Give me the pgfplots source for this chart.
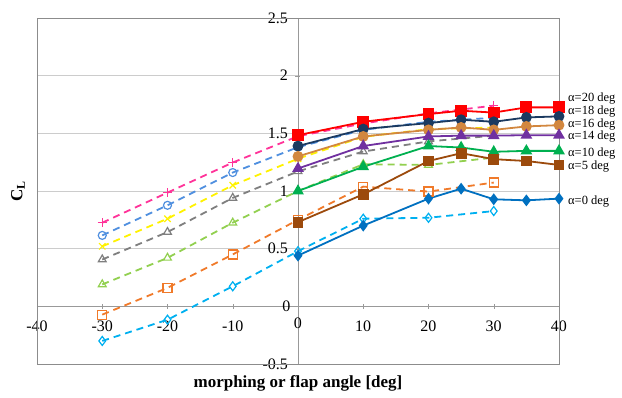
\documentclass[border=0pt]{standalone}
\usepackage{pgfplots}
\pgfplotsset{compat=1.18}
\usepackage{fontspec}
\setmainfont{Liberation Serif}
\definecolor{cPink}{HTML}{FF3399}
\definecolor{cBlueD}{HTML}{4F8FDF}
\definecolor{cYel}{HTML}{FFF200}
\definecolor{cGray}{HTML}{7F7F7F}
\definecolor{cLGreen}{HTML}{92D050}
\definecolor{cOrange}{HTML}{F07A2A}
\definecolor{cCyan}{HTML}{00B0F0}
\definecolor{cRed}{HTML}{FF0000}
\definecolor{cNavy}{HTML}{1B3A60}
\definecolor{cPeru}{HTML}{D2873F}
\definecolor{cPurple}{HTML}{7030A0}
\definecolor{cGreen}{HTML}{00B050}
\definecolor{cBrown}{HTML}{9C4A0C}
\definecolor{cBlue}{HTML}{0070C0}
\begin{document}
\begin{tikzpicture}
\useasboundingbox (-37pt,-33pt) rectangle (585pt,364pt);
\begin{axis}[
  at={(0pt,0pt)}, anchor=south west,
  scale only axis, width=522pt, height=346pt,
  xmin=-40, xmax=40, ymin=-0.5, ymax=2.5,
  axis lines=middle,
  axis line style={-, color=gray!80},
  xtick={-40,-30,...,40},
  ytick={-0.5,0,0.5,1,1.5,2,2.5},
  ymajorgrids=true,
  grid style={color=gray!40, line width=0.6pt},
  major tick length=5pt,
  tick style={color=gray!80},
  tick label style={font=\fontsize{16}{16}\selectfont},
  /pgf/number format/assume math mode=true,
  xticklabel style={yshift=-8pt},
  yticklabel style={xshift=-4pt},
  clip=false,
  every axis plot/.append style={line width=1.8pt},
]
\draw[color=gray!90, line width=0.8pt] (rel axis cs:0,0) rectangle (rel axis cs:1,1);
% flap (dashed)
\addplot[cPink, dash pattern=on 7pt off 5pt, mark=+, mark size=4.5pt, mark options={solid, line width=1.2pt}] coordinates {(-30,0.725) (-20,0.986) (-10,1.247) (0,1.475) (10,1.585) (20,1.673) (30,1.74)};
\addplot[cBlueD, dash pattern=on 7pt off 5pt, mark=o, mark size=4pt, mark options={solid, line width=1.2pt}] coordinates {(-30,0.615) (-20,0.876) (-10,1.16) (0,1.38) (10,1.53) (20,1.60) (30,1.635)};
\addplot[cYel, dash pattern=on 7pt off 5pt, mark=x, mark size=4.5pt, mark options={solid, line width=1.2pt}] coordinates {(-30,0.52) (-20,0.76) (-10,1.05) (0,1.28) (10,1.47) (20,1.536) (30,1.55)};
\addplot[cGray, dash pattern=on 7pt off 5pt, mark=triangle, mark size=4.5pt, mark options={solid, line width=1.2pt}] coordinates {(-30,0.406) (-20,0.644) (-10,0.94) (0,1.17) (10,1.342) (20,1.43) (30,1.48)};
\addplot[cLGreen, dash pattern=on 7pt off 5pt, mark=triangle, mark size=4.5pt, mark options={solid, line width=1.2pt}] coordinates {(-30,0.19) (-20,0.42) (-10,0.725) (0,1.0) (10,1.232) (20,1.226) (30,1.29)};
\addplot[cOrange, dash pattern=on 7pt off 5pt, mark=square, mark size=4.5pt, mark options={solid, line width=1.2pt}] coordinates {(-30,-0.072) (-20,0.16) (-10,0.45) (0,0.75) (10,1.038) (20,0.995) (30,1.073)};
\addplot[cCyan, dash pattern=on 7pt off 5pt, mark=diamond, mark size=4.5pt, mark options={solid, line width=1.2pt}] coordinates {(-30,-0.30) (-20,-0.116) (-10,0.174) (0,0.478) (10,0.76) (20,0.768) (30,0.826)};
% morphing (solid)
\addplot[cRed, mark=square*, mark size=5pt] coordinates {(0,1.484) (10,1.60) (20,1.667) (25,1.696) (30,1.68) (35,1.725) (40,1.725)};
\addplot[cNavy, mark=*, mark size=4.5pt] coordinates {(0,1.39) (10,1.537) (20,1.589) (25,1.618) (30,1.60) (35,1.638) (40,1.647)};
\addplot[cPeru, mark=*, mark size=4.5pt] coordinates {(0,1.30) (10,1.473) (20,1.53) (25,1.551) (30,1.53) (35,1.56) (40,1.571)};
\addplot[cPurple, mark=triangle*, mark size=5pt] coordinates {(0,1.195) (10,1.39) (20,1.473) (25,1.48) (30,1.48) (35,1.484) (40,1.484)};
\addplot[cGreen, mark=triangle*, mark size=5pt] coordinates {(0,1.0) (10,1.21) (20,1.39) (25,1.377) (30,1.34) (35,1.348) (40,1.348)};
\addplot[cBrown, mark=square*, mark size=4.5pt] coordinates {(0,0.73) (10,0.971) (20,1.26) (25,1.328) (30,1.276) (35,1.26) (40,1.226)};
\addplot[cBlue, mark=diamond*, mark size=4.5pt] coordinates {(0,0.44) (10,0.70) (20,0.934) (25,1.02) (30,0.928) (35,0.919) (40,0.934)};
% origin tick labels
\node[anchor=east, xshift=-4pt, font=\fontsize{16}{16}\selectfont] at (axis cs:0,0) {0};
\node[anchor=north, yshift=-8pt, font=\fontsize{16}{16}\selectfont] at (axis cs:0,0) {0};
% labels
\begin{scope}[every node/.style={anchor=west, inner sep=0pt, font=\fontsize{12.5}{12.5}\selectfont}]
\node at ([xshift=9pt]axis cs:40,1.80) {α=20 deg};
\node at ([xshift=9pt]axis cs:40,1.69) {α=18 deg};
\node at ([xshift=9pt]axis cs:40,1.577) {α=16 deg};
\node at ([xshift=9pt]axis cs:40,1.474) {α=14 deg};
\node at ([xshift=9pt]axis cs:40,1.328) {α=10 deg};
\node at ([xshift=9pt]axis cs:40,1.212) {α=5 deg};
\node at ([xshift=9pt]axis cs:40,0.913) {α=0 deg};
\end{scope}
\node[rotate=90, font=\fontsize{17}{17}\selectfont\bfseries] at ([xshift=-19pt]rel axis cs:0,0.5) {C\textsubscript{L}};
\node[font=\fontsize{17}{17}\selectfont\bfseries] at ([yshift=-19pt]rel axis cs:0.5,0) {morphing or flap angle [deg]};
\end{axis}
\end{tikzpicture}
\end{document}
